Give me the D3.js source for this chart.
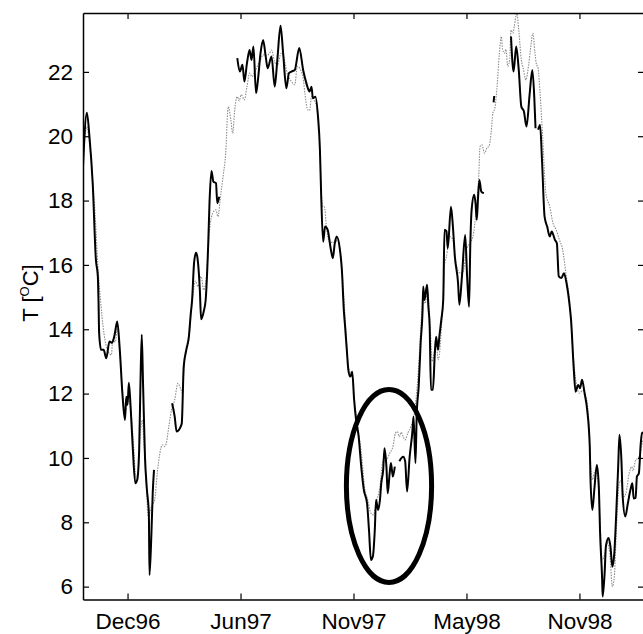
<!DOCTYPE html>
<meta charset="utf-8">
<html>
<head>
  <title>T series</title>
  <script src="https://d3js.org/d3.v7.min.js"></script>
</head>
<style>
  body {margin: 0; background-color: #fff;}
  svg text {font-family: 'Liberation Sans', Arial, sans-serif;}
</style>
<body>
<script>

// days counted from 3 Oct 1996; null = gap in the record
var blackDays = [0,6,10,15,20,23,24,25,28,32,36,41,45,49,53,57,61,65,67,69,71,74,77,81,84,87,89,91,93,96,99,102,103,106,108,110,
  120,
  138,142,145,150,153,156,160,164,167,169,172,175,177,181,183,187,190,194,196,199,202,206,208,211,
  225,
  239,243,247,250,254,258,261,264,268,271,275,279,283,286,292,297,301,306,310,315,319,323,328,335,341,346,351,354,356,360,364,367,369,372,375,379,384,387,390,393,398,401,404,406,409,411,414,417,420,423,427,431,435,440,443,446,449,452,454,457,460,462,465,467,470,472,475,477,480,483,
  487,
  490,496,499,502,506,510,512,515,517,520,523,526,527,529,533,535,537,539,542,545,547,550,552,555,558,560,563,565,570,573,576,581,583,587,592,595,598,600,602,606,608,610,612,614,617,621,
  628,
  636,637,
  650,
  663,667,671,675,679,683,687,692,696,699,701,
  703,
  705,708,711,715,719,723,726,731,734,737,741,745,749,754,756,760,763,767,770,773,777,781,785,786,789,792,796,799,801,804,805,808,810,814,817,820,823,826,829,831,834,836,840,844,848,851,853,856,858,861,864,866,870];
var blackTemps = [19.06,20.73,19.99,18.54,16.16,15.64,14.91,13.88,13.36,13.36,13.1,13.62,13.58,13.83,14.24,13.36,12.01,11.18,11.9,11.65,12.34,11.49,10.35,9.21,9.32,10.25,12.32,13.83,12.32,10.04,9.01,8.28,6.36,7.66,8.9,9.63,
  null,
  11.7,11.29,10.82,10.92,11.08,12.84,13.36,13.77,14.5,14.91,16.05,16.38,16.26,15.22,14.31,14.55,14.91,16.67,17.96,18.92,18.59,18.54,17.92,18.12,
  null,
  22.43,22.01,22.22,21.7,22.27,22.68,22.37,22.79,21.34,21.75,22.58,22.99,22.48,22.11,22.48,21.54,22.37,23.43,22.58,21.49,21.96,22.01,22.06,22.74,22.06,21.65,21.39,21.54,21.18,21.23,20.61,19.58,18.12,16.72,17.19,17.09,16.47,16.21,16.67,16.88,16.47,15.85,14.6,14.08,13.26,12.74,12.53,12.68,11.8,11.18,10.66,9.73,9.01,8.59,7.76,6.83,6.94,7.76,8.7,8.38,8.7,9.21,9.63,10.3,9.73,8.9,9.52,9.84,9.42,9.73,
  null,
  9.9,10.04,9.9,8.96,10.04,10.77,11.29,9.84,11.39,12.22,13.57,14.6,15.33,14.91,15.38,14.7,14.08,12.12,12.12,13.26,13.77,13.36,13.77,14.29,14.91,17.09,17.05,16.52,17.81,17.19,16.26,15.43,14.76,15.64,16.93,15.64,14.7,16.67,17.71,18.18,17.92,17.4,18.12,18.64,18.28,18.23,
  null,
  21.05,21.25,
  null,
  23.1,22.01,22.79,22.06,20.92,20.77,20.3,21.34,22.06,21.23,20.25,
  null,
  20.2,20.35,19.26,17.5,17.19,16.88,17.04,16.78,16.67,15.64,15.59,15.74,15.43,14.7,14.29,12.84,12.06,12.27,12.17,12.43,12.01,11.49,10.35,9.42,8.38,9.01,9.78,9.11,7.66,6.31,5.69,6.42,7.25,7.51,7.25,6.62,7.04,8.28,9.73,10.72,9.94,8.8,8.18,8.59,9.01,9.21,8.74,8.76,9.42,9.52,10.46,10.77,10.8];

var greyDays = [0,3,6,10,19,23,28,34,39,44,46,50,53,57,61,65,70,74,78,82,85,88,92,94,98,101,106,111,115,119,123,126,129,133,137,142,147,151,154,157,160,164,167,170,174,178,183,187,191,196,201,206,209,213,217,221,225,229,232,235,239,242,245,250,254,258,262,266,271,275,279,284,289,292,297,301,307,311,317,323,328,332,336,341,344,348,351,354,359,364,367,369,372,374,377,382,390,395,400,405,408,410,413,417,421,427,432,436,441,446,450,454,460,465,470,475,480,484,487,490,493,496,499,503,508,514,518,521,524,527,530,534,536,538,541,544,547,550,552,555,558,560,563,568,573,578,584,589,594,599,604,609,613,615,618,622,626,629,632,635,638,641,645,648,650,653,655,658,661,663,666,668,672,675,679,682,686,690,693,697,700,702,705,708,712,717,723,728,733,738,743,748,754,759,764,769,774,779,783,786,789,793,797,801,804,808,811,816,820,823,826,830,833,838,841,846,850,852,856,860,863,867];
var greyTemps = [19.3,19.99,20.3,19.78,17.5,16.0,14.7,13.67,13.31,13.2,13.67,13.6,14.0,13.3,12.1,11.4,11.8,11.5,10.5,9.4,9.5,10.6,11.18,10.6,9.2,8.18,8.49,8.7,9.52,10.14,10.41,10.35,10.46,10.98,11.49,11.8,12.32,12.17,12.01,12.9,13.3,13.7,14.4,15.0,15.5,15.33,15.64,15.22,15.6,17.09,17.61,17.71,17.5,18.12,18.75,19.47,20.92,20.51,20.09,20.82,21.23,21.1,21.29,21.13,21.54,21.96,21.85,22.0,22.22,22.37,22.53,22.5,22.58,22.68,22.3,22.2,22.58,22.45,21.91,21.7,21.6,22.17,22.1,21.8,21.29,20.82,20.8,21.23,21.1,20.6,19.6,18.3,17.81,17.81,17.2,16.7,16.7,16.78,16.1,14.7,13.7,13.05,12.7,12.5,11.7,10.8,10.0,9.11,8.7,8.28,8.23,8.6,9.11,9.94,9.94,10.14,10.35,10.77,10.82,10.66,10.8,10.66,10.56,10.77,10.98,11.49,12.32,13.2,14.29,15.1,14.8,15.2,14.7,14.0,13.0,13.3,13.7,13.05,13.2,14.0,15.0,16.0,16.26,16.88,16.78,16.05,15.74,15.8,16.47,16.67,16.88,17.71,18.75,19.68,19.73,19.47,19.65,19.68,20.09,20.72,20.87,21.44,22.58,23.1,22.7,22.58,22.7,22.17,22.4,23.3,23.2,23.41,23.82,23.3,22.37,22.1,21.75,22.17,22.68,23.2,22.6,22.27,22.1,21.34,19.99,18.23,17.81,17.3,17.09,16.78,16.47,15.74,14.8,13.3,12.32,12.01,12.1,11.9,11.29,9.94,9.32,9.6,9.4,8.0,6.83,7.0,7.4,7.04,6.0,6.3,7.66,9.11,9.3,8.8,8.9,9.52,9.73,9.6,9.94,10.0,10.14,10.56];

var tickDays = [69, 244, 419, 594, 769];
var yTicks = [6, 8, 10, 12, 14, 16, 18, 20, 22];

// highlighted period: centre day, centre T, half width (days), half height (T)
var markDay = 474, markT = 9.13, markHalfDays = 66, markHalfT = 3.0;

var start = new Date(1996, 9, 3);
function toDate(d) { return d3.timeDay.offset(start, d); }

var W = 643, H = 634;
var mLeft = 83, mRight = 644, mTop = 13, mBottom = 599.5;

var svg = d3.select("body").append("svg")
    .attr("width", W)
    .attr("height", H);

var x = d3.scaleTime()
    .domain([toDate(0), toDate(869)])
    .range([mLeft, mRight]);

var y = d3.scaleLinear()
    .domain([5.6, 23.83])
    .range([mBottom, mTop]);

svg.append("clipPath").attr("id", "clip")
  .append("rect")
    .attr("x", mLeft).attr("y", mTop)
    .attr("width", mRight - mLeft).attr("height", mBottom - mTop);

var plot = svg.append("g").attr("clip-path", "url(#clip)");

var line = d3.line()
    .defined(function (d) { return d[1] !== null; })
    .x(function (d) { return x(toDate(d[0])); })
    .y(function (d) { return y(d[1]); })
    .curve(d3.curveMonotoneX);

var grey = greyDays.map(function (d, i) { return [d, greyTemps[i]]; });
var black = blackDays.map(function (d, i) { return [d, blackTemps[i]]; });

plot.append("path")
    .datum(grey)
    .attr("fill", "none")
    .attr("stroke", "#8c8c8c")
    .attr("stroke-width", 1.1)
    .attr("stroke-dasharray", "1.5,1.2")
    .attr("d", line);

plot.append("path")
    .datum(black)
    .attr("fill", "none")
    .attr("stroke", "#000")
    .attr("stroke-width", 2)
    .attr("stroke-linejoin", "round")
    .attr("d", line);

// ellipse round the cold spell
var cx = x(toDate(markDay)), cy = y(markT);
plot.append("ellipse")
    .attr("cx", cx)
    .attr("cy", cy)
    .attr("rx", x(toDate(markDay + markHalfDays)) - cx)
    .attr("ry", cy - y(markT + markHalfT))
    .attr("fill", "none")
    .attr("stroke", "#000")
    .attr("stroke-width", 5);

//axes, ticks pointing inward
var fmt = d3.timeFormat("%b%y");
var xVals = tickDays.map(toDate);

svg.append("g")
    .attr("transform", "translate(0," + mBottom + ")")
    .call(d3.axisBottom(x).tickValues(xVals).tickFormat(fmt).tickSizeInner(-6).tickSizeOuter(0).tickPadding(14))
    .call(function (g) { g.selectAll("text").attr("font-size", 22.5).attr("fill", "#000"); });

svg.append("g")
    .attr("transform", "translate(0," + mTop + ")")
    .call(d3.axisTop(x).tickValues(xVals).tickFormat("").tickSizeInner(-6).tickSizeOuter(0));

svg.append("g")
    .attr("transform", "translate(" + mLeft + ",0)")
    .call(d3.axisLeft(y).tickValues(yTicks).tickSizeInner(-6).tickSizeOuter(0).tickPadding(10))
    .call(function (g) { g.selectAll("text").attr("font-size", 22.5).attr("fill", "#000"); });

svg.append("g")
    .attr("transform", "translate(" + mRight + ",0)")
    .call(d3.axisRight(y).tickValues(yTicks).tickFormat("").tickSizeInner(-6).tickSizeOuter(0));

svg.selectAll(".domain").attr("stroke", "#000").attr("stroke-width", 1.5);
svg.selectAll(".tick line").attr("stroke", "#000").attr("stroke-width", 1.2);

var ylab = svg.append("text")
    .attr("transform", "translate(38,293) rotate(-90)")
    .attr("text-anchor", "middle")
    .attr("fill", "#000")
    .attr("font-size", 22);
ylab.append("tspan").text("T [");
ylab.append("tspan").attr("font-size", 13).attr("dy", -9).text("O");
ylab.append("tspan").attr("dy", 9).text("C]");

</script>
</body>
</html>
